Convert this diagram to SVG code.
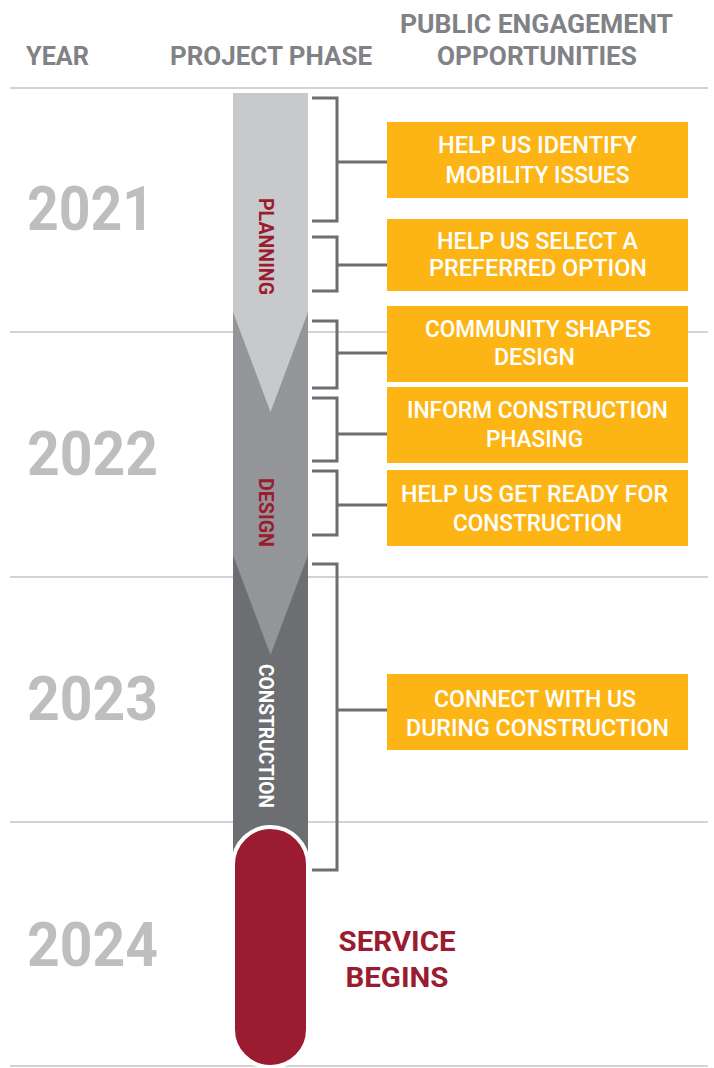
<svg xmlns="http://www.w3.org/2000/svg" width="714" height="1068" viewBox="0 0 714 1068">
<style>
.hdr{font-family:Roboto,"Liberation Sans",sans-serif;font-weight:700;font-size:26px;fill:#808285}
.yr{font-family:Roboto,"Liberation Sans",sans-serif;font-weight:700;font-size:62px;fill:#bcbec0}
.grid{stroke:#d1d3d4;stroke-width:2;fill:none}
.brk{stroke:#6d6e71;stroke-width:3;fill:none}
.box{fill:#fdb515}
.bt{font-family:Roboto,"Liberation Sans",sans-serif;font-weight:500;font-size:23px;fill:#ffffff;text-anchor:middle}
.ph{font-family:Roboto,"Liberation Sans",sans-serif;font-weight:700;font-size:20px;text-anchor:middle}
.sv{font-family:Roboto,"Liberation Sans",sans-serif;font-weight:700;font-size:27px;fill:#9b1b30;text-anchor:middle}
</style>
<rect width="714" height="1068" fill="#ffffff"/>
<g id="header">
<text class="hdr" x="26" y="65" textLength="63" lengthAdjust="spacingAndGlyphs">YEAR</text>
<text class="hdr" x="170" y="65" textLength="202" lengthAdjust="spacingAndGlyphs">PROJECT PHASE</text>
<text class="hdr" x="400" y="33" textLength="273" lengthAdjust="spacingAndGlyphs">PUBLIC ENGAGEMENT</text>
<text class="hdr" x="437" y="65" textLength="200" lengthAdjust="spacingAndGlyphs">OPPORTUNITIES</text>
</g>
<g id="gridlines">
<line class="grid" x1="10" y1="88" x2="708" y2="88"/>
<line class="grid" x1="10" y1="332" x2="708" y2="332"/>
<line class="grid" x1="10" y1="577" x2="708" y2="577"/>
<line class="grid" x1="10" y1="822" x2="708" y2="822"/>
<line class="grid" x1="10" y1="1066" x2="708" y2="1066"/>
</g>
<g id="years">
<text class="yr" x="27" y="230" textLength="127" lengthAdjust="spacingAndGlyphs">2021</text>
<text class="yr" x="27" y="475" textLength="131" lengthAdjust="spacingAndGlyphs">2022</text>
<text class="yr" x="27" y="720" textLength="131" lengthAdjust="spacingAndGlyphs">2023</text>
<text class="yr" x="27" y="966" textLength="131" lengthAdjust="spacingAndGlyphs">2024</text>
</g>
<g id="phase-construction">
<rect x="233" y="93" width="75" height="780" fill="#6d6e71"/>
<text class="ph" fill="#ffffff" transform="translate(259,736) rotate(90)" textLength="144" lengthAdjust="spacingAndGlyphs">CONSTRUCTION</text>
</g>
<g id="phase-design">
<polygon points="233,93 308,93 308,555 270.5,655 233,555" fill="#939598"/>
<text class="ph" fill="#9b1b30" transform="translate(259,512.5) rotate(90)" textLength="69" lengthAdjust="spacingAndGlyphs">DESIGN</text>
</g>
<g id="phase-planning">
<polygon points="233,93 308,93 308,312 270.5,412 233,312" fill="#c8c9cb"/>
<text class="ph" fill="#9b1b30" transform="translate(259,246.5) rotate(90)" textLength="97" lengthAdjust="spacingAndGlyphs">PLANNING</text>
</g>
<g id="service-begins">
<rect x="233" y="827" width="75" height="240" rx="37.5" ry="37.5" fill="#9b1b30" stroke="#ffffff" stroke-width="4"/>
<text class="sv" x="397" y="951" textLength="117" lengthAdjust="spacingAndGlyphs">SERVICE</text>
<text class="sv" x="397" y="987" textLength="103" lengthAdjust="spacingAndGlyphs">BEGINS</text>
</g>
<g id="connectors">
<path class="brk" d="M312,98 H337 V221 H312 M337,162 H387"/>
<path class="brk" d="M312,237 H337 V291 H312 M337,265 H387"/>
<path class="brk" d="M312,321 H337 V388 H312 M337,353 H387"/>
<path class="brk" d="M312,398 H337 V461 H312 M337,434 H387"/>
<path class="brk" d="M312,471 H337 V535 H312 M337,505 H387"/>
<path class="brk" d="M312,564 H337 V870 H312 M337,710 H387"/>
</g>
<g id="box1">
<rect class="box" x="387" y="122" width="301" height="76"/>
<text class="bt" x="537.5" y="153" textLength="199" lengthAdjust="spacingAndGlyphs">HELP US IDENTIFY</text>
<text class="bt" x="537.5" y="183" textLength="184" lengthAdjust="spacingAndGlyphs">MOBILITY ISSUES</text>
</g>
<g id="box2">
<rect class="box" x="387" y="219" width="301" height="72"/>
<text class="bt" x="537.5" y="249" textLength="201" lengthAdjust="spacingAndGlyphs">HELP US SELECT A</text>
<text class="bt" x="538" y="276" textLength="218" lengthAdjust="spacingAndGlyphs">PREFERRED OPTION</text>
</g>
<g id="box3">
<rect class="box" x="387" y="306" width="301" height="76"/>
<text class="bt" x="538" y="337" textLength="226" lengthAdjust="spacingAndGlyphs">COMMUNITY SHAPES</text>
<text class="bt" x="534.5" y="365" textLength="81" lengthAdjust="spacingAndGlyphs">DESIGN</text>
</g>
<g id="box4">
<rect class="box" x="387" y="387" width="301" height="76"/>
<text class="bt" x="537.5" y="418" textLength="261" lengthAdjust="spacingAndGlyphs">INFORM CONSTRUCTION</text>
<text class="bt" x="534.5" y="447" textLength="97" lengthAdjust="spacingAndGlyphs">PHASING</text>
</g>
<g id="box5">
<rect class="box" x="387" y="470" width="301" height="76"/>
<text class="bt" x="534.5" y="502" textLength="267" lengthAdjust="spacingAndGlyphs">HELP US GET READY FOR</text>
<text class="bt" x="537.5" y="531" textLength="169" lengthAdjust="spacingAndGlyphs">CONSTRUCTION</text>
</g>
<g id="box6">
<rect class="box" x="387" y="674" width="301" height="76"/>
<text class="bt" x="535" y="707" textLength="202" lengthAdjust="spacingAndGlyphs">CONNECT WITH US</text>
<text class="bt" x="537.5" y="736" textLength="263" lengthAdjust="spacingAndGlyphs">DURING CONSTRUCTION</text>
</g>
</svg>
